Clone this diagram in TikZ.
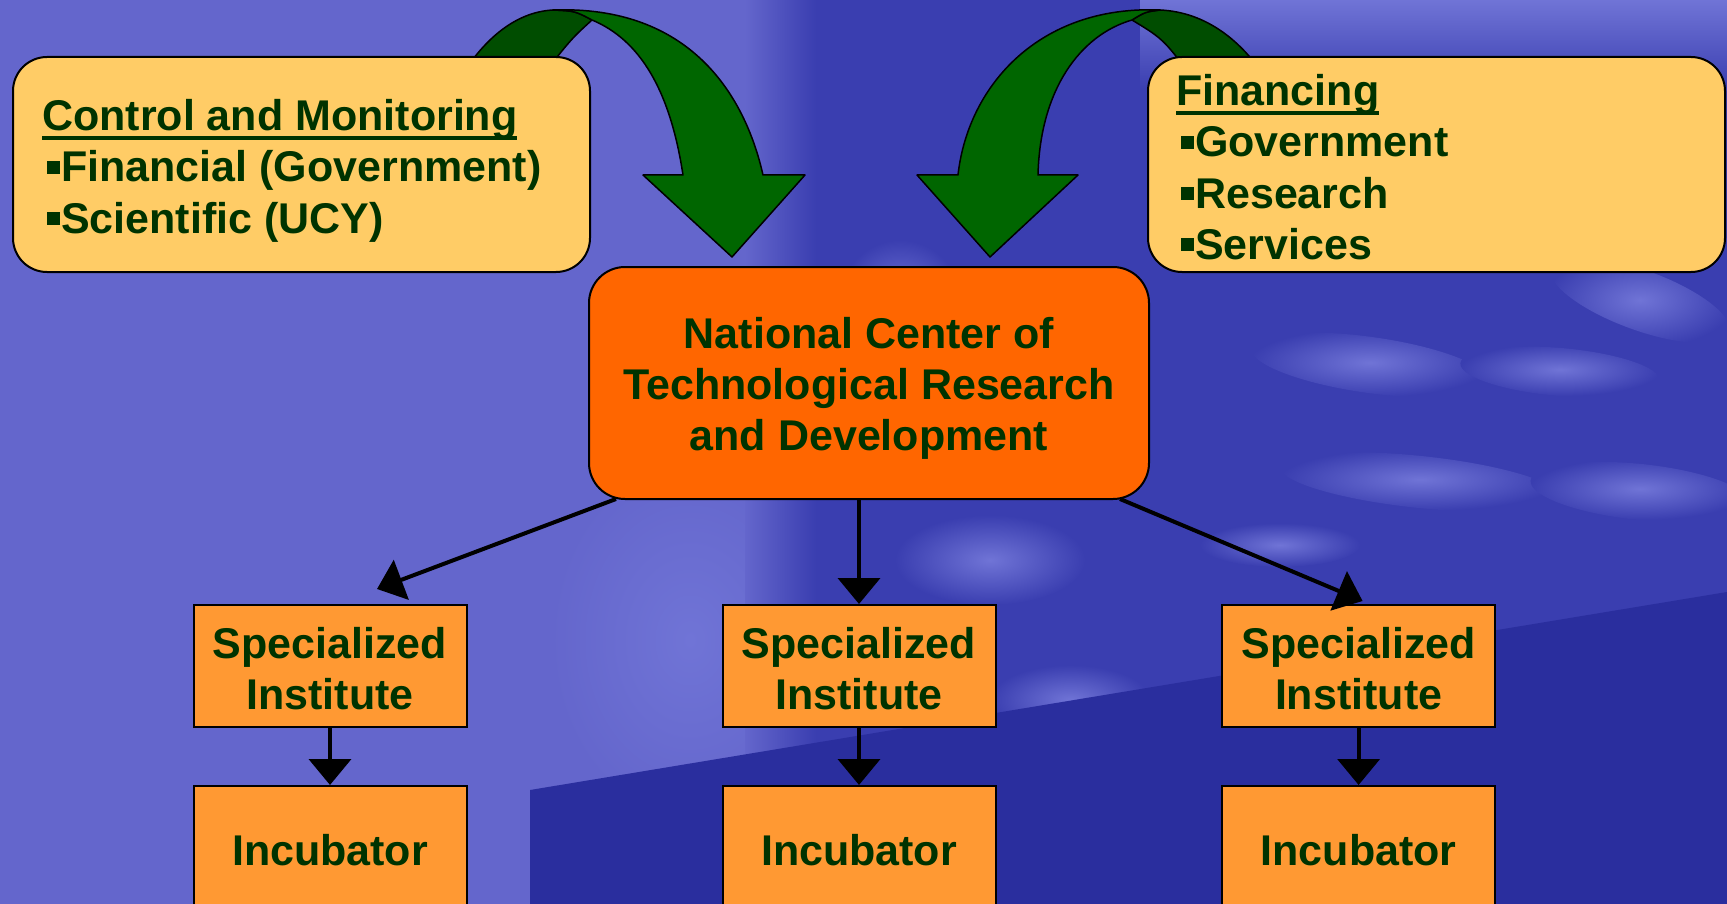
\documentclass[tikz,border=0pt]{standalone}
\usepackage{fontspec}
\setmainfont{Liberation Sans}
\usetikzlibrary{arrows.meta,calc}
\definecolor{txtgreen}{RGB}{0,51,0}
\definecolor{bgblue}{RGB}{100,102,204}
\definecolor{bgdark}{RGB}{58,62,176}
\definecolor{bgnavy}{RGB}{42,46,158}
\definecolor{bglight}{RGB}{112,116,214}
\definecolor{garrow}{RGB}{0,102,0}
\definecolor{garrowdk}{RGB}{0,77,0}
\definecolor{boxyellow}{RGB}{255,204,102}
\definecolor{boxorange}{RGB}{255,102,0}
\definecolor{boxlight}{RGB}{255,153,51}

\newcommand\clines[1]{\vtop{\baselineskip=51.3pt\halign{\hfil##\hfil\cr#1\crcr}}}
\newcommand\llines[1]{\vtop{\baselineskip=51.3pt\halign{##\hfil\cr#1\crcr}}}
\newcommand\bul{\hspace*{4.5pt}\rule[8pt]{13pt}{13pt}\hspace{1.5pt}}
\newcommand\uline[1]{\setbox0\hbox{#1}\rlap{\rule[-10pt]{\wd0}{4pt}}\box0}

\begin{document}
\begin{tikzpicture}[x=1pt,y=-1pt,
  txt/.style={inner sep=0pt, text=txtgreen, font=\fontsize{43}{51.3}\selectfont\bfseries},
  topbox/.style={draw=black, line width=2pt, fill=boxyellow, rounded corners=34pt,
     inner sep=0pt, minimum width=577pt, minimum height=215pt},
  ctrbox/.style={draw=black, line width=2pt, fill=boxorange, rounded corners=36pt,
     inner sep=0pt, minimum width=560pt, minimum height=232pt},
  subbox/.style={draw=black, line width=2pt, fill=boxlight,
     inner sep=0pt, minimum width=273pt, minimum height=122pt},
  conn/.style={draw=black, line width=4pt, -{Triangle[length=26pt,width=42pt]}},
  bigarrow/.style={fill=garrow, draw=black, line width=1.5pt, line join=round},
  bigarrowdk/.style={fill=garrowdk, draw=black, line width=1.5pt, line join=round},
  blob/.style={inner color=bglight, outer color=bgdark}
]
\useasboundingbox (0,0) rectangle (1727,904);
\clip (0,0) rectangle (1727,904);

% ---------- background ----------
\fill[bgblue] (0,0) rectangle (1727,904);
\shade[inner color=bglight, outer color=bgblue] (690,640) ellipse (140pt and 180pt);
\fill[bgdark] (815,0) -- (1727,0) -- (1727,904) -- (815,904) -- cycle;
\shade[left color=bgblue, right color=bgdark] (745,0) rectangle (816,904);
\shade[top color=bglight, bottom color=bgdark] (1140,0) rectangle (1727,90);
\begin{scope}
  \shade[blob, rotate around={-8:(1370,365)}] (1370,365) ellipse (120pt and 28pt);
  \shade[blob, rotate around={-5:(1560,372)}] (1560,372) ellipse (100pt and 24pt);
  \shade[blob, rotate around={-20:(1640,300)}] (1640,300) ellipse (95pt and 30pt);
  \shade[blob, rotate around={-6:(1420,482)}] (1420,482) ellipse (140pt and 26pt);
  \shade[blob, rotate around={-6:(1640,492)}] (1640,492) ellipse (110pt and 28pt);
  \shade[blob] (1280,545) ellipse (80pt and 22pt);
  \shade[blob] (990,560) ellipse (95pt and 45pt);
  \shade[blob] (1070,700) ellipse (80pt and 35pt);
  \shade[blob] (900,300) ellipse (60pt and 60pt);
\end{scope}
\fill[bgnavy] (530,790) -- (1727,592) -- (1727,904) -- (530,904) -- cycle;

% ---------- curved green arrows ----------
\path[bigarrowdk] (452,92) .. controls (480,40) and (515,12) .. (553,10)
   .. controls (575,11) .. (592,20) .. controls (570,40) .. (530,92) -- cycle;
\path[bigarrow] (553,10) .. controls (690,5) and (745,95) .. (763,175)
   -- (805,175) -- (732,257) -- (643,175) -- (683,175)
   .. controls (670,90) and (640,40) .. (592,20)
   .. controls (575,11) .. (553,10) -- cycle;

\path[bigarrowdk] (1160,10) .. controls (1205,12) and (1245,40) .. (1274,92)
   -- (1202,92) .. controls (1165,40) .. (1132,20)
   .. controls (1145,12) .. (1160,10) -- cycle;
\path[bigarrow] (1160,10) .. controls (1040,5) and (968,85) .. (958,175)
   -- (917,175) -- (990,257) -- (1078,175) -- (1038,175)
   .. controls (1040,90) and (1080,35) .. (1132,20)
   .. controls (1145,12) .. (1160,10) -- cycle;

% ---------- boxes ----------
\node[topbox] (cm)  at (301.5,164.5) {};
\node[topbox] (fin) at (1436.5,164.5) {};
\node[subbox] (sp1) at (330,666) {};
\node[subbox] (sp2) at (859,666) {};
\node[subbox] (sp3) at (1358.6,666) {};
\node[subbox, minimum height=124pt] (in1) at (330,848) {};
\node[subbox, minimum height=124pt] (in2) at (859,848) {};
\node[subbox, minimum height=124pt] (in3) at (1358.6,848) {};

% ---------- connectors ----------
\coordinate (c1s) at (616,499);
\coordinate (c3s) at (1120,499);
\draw[conn] (c1s) -- ([xshift=47pt,yshift=15pt]sp1.north);
\draw[conn] (c3s) -- ([xshift=4pt,yshift=3pt]sp3.north);
\node[ctrbox] (ctr) at (869,383) {};
\draw[conn] (ctr.south -| sp2.north) -- (sp2.north);
\draw[conn] (sp1) -- (in1);
\draw[conn] (sp2) -- (in2);
\draw[conn] (sp3) -- (in3);

% ---------- texts ----------
\node[txt, anchor=base west] (cmt) at (42,130.5)
  {\llines{\uline{Control and Monitoring}\cr\bul Financial (Government)\cr\bul Scientific (UCY)}};
\node[txt, anchor=base west] (fint) at (1176,105.5)
  {\llines{\uline{Financing}\cr\bul Government\cr\bul Research\cr\bul Services}};
\node[txt, anchor=base] (ctrt) at (869,348)
  {\clines{National Center of\cr Technological Research\cr and Development}};
\node[txt, anchor=base] (sp1t) at (330,658) {\clines{Specialized\cr Institute}};
\node[txt, anchor=base] (sp2t) at (859,658) {\clines{Specialized\cr Institute}};
\node[txt, anchor=base] (sp3t) at (1358.6,658) {\clines{Specialized\cr Institute}};
\node[txt, anchor=base] (in1t) at (330,865) {Incubator};
\node[txt, anchor=base] (in2t) at (859,865) {Incubator};
\node[txt, anchor=base] (in3t) at (1358.6,865) {Incubator};
\end{tikzpicture}
\end{document}
